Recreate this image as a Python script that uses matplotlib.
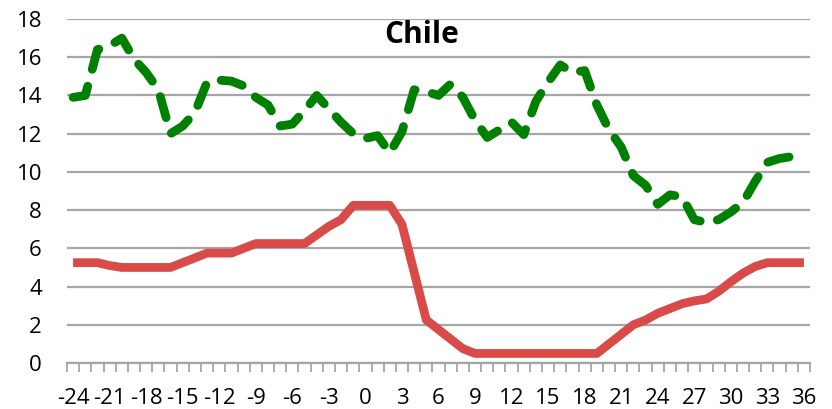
import numpy as np
import matplotlib
matplotlib.use("Agg")
import matplotlib.pyplot as plt
from matplotlib.ticker import FixedLocator

# months relative to the event, -24 .. 36
months = list(range(-24, 37))

# solid red series
red_vals = [5.25, 5.25, 5.25, 5.1, 5.0, 5.0, 5.0, 5.0, 5.0, 5.25,
            5.5, 5.75, 5.75, 5.75, 6.0, 6.25, 6.25, 6.25, 6.25, 6.25,
            6.7, 7.15, 7.5, 8.25, 8.25, 8.25, 8.25, 7.25, 4.75, 2.25,
            1.75, 1.25, 0.75, 0.5, 0.5, 0.5, 0.5, 0.5, 0.5, 0.5,
            0.5, 0.5, 0.5, 0.5, 1.0, 1.5, 2.0, 2.25, 2.6, 2.85,
            3.1, 3.25, 3.35, 3.75, 4.25, 4.7, 5.05, 5.25, 5.25, 5.25,
            5.25]

# dashed green series (no value for the last month)
green_vals = [13.9, 14.0, 16.4, 16.6, 17.0, 15.9, 15.2, 14.3, 12.0, 12.4,
              13.1, 14.7, 14.8, 14.75, 14.5, 13.9, 13.5, 12.4, 12.5, 13.2,
              14.0, 13.3, 12.6, 12.0, 11.75, 11.9, 11.0, 12.1, 14.3, 14.2,
              14.0, 14.6, 13.9, 12.7, 11.8, 12.2, 12.6, 11.95, 13.7, 14.7,
              15.6, 15.2, 15.3, 13.5, 12.2, 11.3, 9.8, 9.3, 8.3, 8.8,
              8.7, 7.5, 7.35, 7.5, 7.9, 8.4, 9.5, 10.5, 10.7, 10.8,
              np.nan]

x_labels = list(range(-24, 37, 3))
y_ticks = list(range(0, 19, 2))

plt.rcParams['font.family'] = ['Open Sans', 'DejaVu Sans']
plt.rcParams['axes.unicode_minus'] = False

fig = plt.figure(figsize=(8.32, 4.09), dpi=100)
ax = fig.add_axes([67 / 832, 1 - 363 / 409, (810 - 67) / 832, (363 - 19) / 409])

grid_col = '#a6a6a6'

ax.plot(months, red_vals, color='#d84b48', lw=6.3, solid_capstyle='butt',
        solid_joinstyle='round', zorder=3)
ax.plot(months, green_vals, color='#008000', lw=6.3,
        linestyle=(0, (2.5, 2.0)), dash_capstyle='round',
        dash_joinstyle='round', zorder=4)

ax.set_xlim(-24.5, 36.5)
ax.set_ylim(0, 18)

ax.set_yticks(y_ticks)
ax.yaxis.grid(True, color=grid_col, lw=1.6)
ax.set_axisbelow(True)
ax.tick_params(axis='y', length=0, pad=18, labelsize=16)

ax.xaxis.set_major_locator(FixedLocator(x_labels))
ax.xaxis.set_minor_locator(FixedLocator(np.arange(-24.5, 37, 1.0)))
ax.tick_params(axis='x', which='major', length=0, pad=18, labelsize=16)
ax.tick_params(axis='x', which='minor', length=6.5, width=1.3, color=grid_col)

for side in ('top', 'right', 'left'):
    ax.spines[side].set_visible(False)
ax.spines['bottom'].set_color(grid_col)
ax.spines['bottom'].set_linewidth(1.6)

fig.text(422 / 832, 1 - 43 / 409, 'Chile', ha='center', va='baseline',
         fontsize=21.5, fontweight='bold')

fig.savefig('out.png', dpi=100)
